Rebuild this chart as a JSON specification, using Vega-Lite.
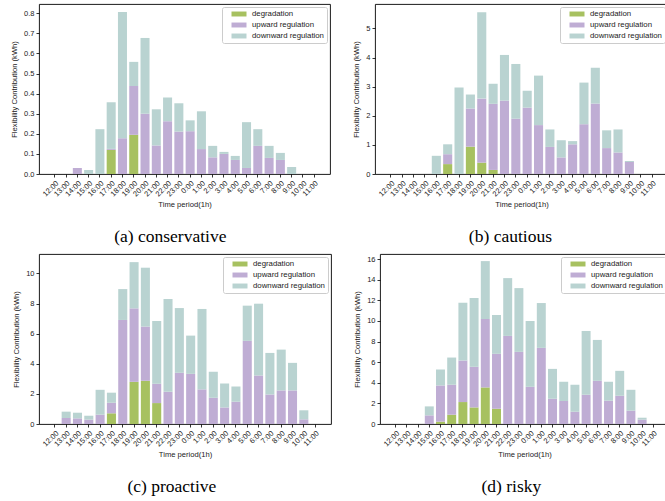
{
  "$schema": "https://vega.github.io/schema/vega-lite/v6.json",
  "padding": {"left": 10, "top": 3, "right": 0, "bottom": 0},
  "datasets": {
    "a": [
      {"hour": "14:00", "degradation": 0, "upward_top": 0.03, "downward_top": 0.03},
      {"hour": "15:00", "degradation": 0, "upward_top": 0, "downward_top": 0.02},
      {"hour": "16:00", "degradation": 0, "upward_top": 0, "downward_top": 0.223},
      {"hour": "17:00", "degradation": 0.12, "upward_top": 0.125, "downward_top": 0.357},
      {"hour": "18:00", "degradation": 0, "upward_top": 0.178, "downward_top": 0.806},
      {"hour": "19:00", "degradation": 0.195, "upward_top": 0.438, "downward_top": 0.558},
      {"hour": "20:00", "degradation": 0, "upward_top": 0.3, "downward_top": 0.677},
      {"hour": "21:00", "degradation": 0, "upward_top": 0.142, "downward_top": 0.322},
      {"hour": "22:00", "degradation": 0, "upward_top": 0.262, "downward_top": 0.381},
      {"hour": "23:00", "degradation": 0, "upward_top": 0.211, "downward_top": 0.352},
      {"hour": "0:00", "degradation": 0, "upward_top": 0.213, "downward_top": 0.267},
      {"hour": "1:00", "degradation": 0, "upward_top": 0.124, "downward_top": 0.312},
      {"hour": "2:00", "degradation": 0, "upward_top": 0.083, "downward_top": 0.14},
      {"hour": "3:00", "degradation": 0, "upward_top": 0.1, "downward_top": 0.11},
      {"hour": "4:00", "degradation": 0, "upward_top": 0.07, "downward_top": 0.09},
      {"hour": "5:00", "degradation": 0, "upward_top": 0.03, "downward_top": 0.258},
      {"hour": "6:00", "degradation": 0, "upward_top": 0.14, "downward_top": 0.223},
      {"hour": "7:00", "degradation": 0, "upward_top": 0.08, "downward_top": 0.14},
      {"hour": "8:00", "degradation": 0, "upward_top": 0.07, "downward_top": 0.105},
      {"hour": "9:00", "degradation": 0, "upward_top": 0, "downward_top": 0.035}
    ],
    "b": [
      {"hour": "16:00", "degradation": 0, "upward_top": 0, "downward_top": 0.625},
      {"hour": "17:00", "degradation": 0.34, "upward_top": 0.68, "downward_top": 1.02},
      {"hour": "18:00", "degradation": 0, "upward_top": 0, "downward_top": 2.97},
      {"hour": "19:00", "degradation": 0.94, "upward_top": 2.25, "downward_top": 2.73},
      {"hour": "20:00", "degradation": 0.39, "upward_top": 2.59, "downward_top": 5.56},
      {"hour": "21:00", "degradation": 0.14, "upward_top": 2.41, "downward_top": 3.1},
      {"hour": "22:00", "degradation": 0, "upward_top": 2.52, "downward_top": 4.09},
      {"hour": "23:00", "degradation": 0, "upward_top": 1.9, "downward_top": 3.78},
      {"hour": "0:00", "degradation": 0, "upward_top": 2.28, "downward_top": 2.86},
      {"hour": "1:00", "degradation": 0, "upward_top": 1.68, "downward_top": 3.38},
      {"hour": "2:00", "degradation": 0, "upward_top": 0.93, "downward_top": 1.53},
      {"hour": "3:00", "degradation": 0, "upward_top": 0.57, "downward_top": 1.16},
      {"hour": "4:00", "degradation": 0, "upward_top": 1.02, "downward_top": 1.13},
      {"hour": "5:00", "degradation": 0, "upward_top": 1.71, "downward_top": 3.14},
      {"hour": "6:00", "degradation": 0, "upward_top": 2.42, "downward_top": 3.65},
      {"hour": "7:00", "degradation": 0, "upward_top": 0.89, "downward_top": 1.5},
      {"hour": "8:00", "degradation": 0, "upward_top": 0.74, "downward_top": 1.53},
      {"hour": "9:00", "degradation": 0, "upward_top": 0.41, "downward_top": 0.45}
    ],
    "c": [
      {"hour": "13:00", "degradation": 0, "upward_top": 0.4, "downward_top": 0.82},
      {"hour": "14:00", "degradation": 0, "upward_top": 0.375, "downward_top": 0.75},
      {"hour": "15:00", "degradation": 0, "upward_top": 0.29, "downward_top": 0.55},
      {"hour": "16:00", "degradation": 0, "upward_top": 0.62, "downward_top": 2.27},
      {"hour": "17:00", "degradation": 0.71, "upward_top": 1.41, "downward_top": 2.08},
      {"hour": "18:00", "degradation": 0, "upward_top": 6.91, "downward_top": 8.96},
      {"hour": "19:00", "degradation": 2.8, "upward_top": 7.68, "downward_top": 10.75},
      {"hour": "20:00", "degradation": 2.87, "upward_top": 6.47, "downward_top": 10.38},
      {"hour": "21:00", "degradation": 1.39, "upward_top": 2.67, "downward_top": 6.84},
      {"hour": "22:00", "degradation": 0, "upward_top": 2.14, "downward_top": 8.3},
      {"hour": "23:00", "degradation": 0, "upward_top": 3.4, "downward_top": 7.7},
      {"hour": "0:00", "degradation": 0, "upward_top": 3.33, "downward_top": 5.87},
      {"hour": "1:00", "degradation": 0, "upward_top": 2.3, "downward_top": 7.64},
      {"hour": "2:00", "degradation": 0, "upward_top": 1.74, "downward_top": 3.47},
      {"hour": "3:00", "degradation": 0, "upward_top": 1.1, "downward_top": 2.69},
      {"hour": "4:00", "degradation": 0, "upward_top": 1.48, "downward_top": 2.49},
      {"hour": "5:00", "degradation": 0, "upward_top": 5.52, "downward_top": 7.86},
      {"hour": "6:00", "degradation": 0, "upward_top": 3.22, "downward_top": 7.99},
      {"hour": "7:00", "degradation": 0, "upward_top": 1.96, "downward_top": 4.72},
      {"hour": "8:00", "degradation": 0, "upward_top": 2.23, "downward_top": 4.94},
      {"hour": "9:00", "degradation": 0, "upward_top": 2.23, "downward_top": 4.06},
      {"hour": "10:00", "degradation": 0, "upward_top": 0.31, "downward_top": 0.91}
    ],
    "d": [
      {"hour": "15:00", "degradation": 0, "upward_top": 0.84, "downward_top": 1.71},
      {"hour": "16:00", "degradation": 0.23, "upward_top": 3.74, "downward_top": 5.29},
      {"hour": "17:00", "degradation": 0.9, "upward_top": 3.81, "downward_top": 6.45},
      {"hour": "18:00", "degradation": 2.13, "upward_top": 6.16, "downward_top": 11.77},
      {"hour": "19:00", "degradation": 1.61, "upward_top": 5.55, "downward_top": 12.23},
      {"hour": "20:00", "degradation": 3.55, "upward_top": 10.19, "downward_top": 15.81},
      {"hour": "21:00", "degradation": 1.48, "upward_top": 6.81, "downward_top": 10.58},
      {"hour": "22:00", "degradation": 0, "upward_top": 8.55, "downward_top": 14.16},
      {"hour": "23:00", "degradation": 0, "upward_top": 7.0, "downward_top": 13.19},
      {"hour": "0:00", "degradation": 0, "upward_top": 3.61, "downward_top": 10.0},
      {"hour": "1:00", "degradation": 0, "upward_top": 7.39, "downward_top": 11.74},
      {"hour": "2:00", "degradation": 0, "upward_top": 2.45, "downward_top": 5.35},
      {"hour": "3:00", "degradation": 0, "upward_top": 2.23, "downward_top": 4.1},
      {"hour": "4:00", "degradation": 0, "upward_top": 1.19, "downward_top": 3.81},
      {"hour": "5:00", "degradation": 0, "upward_top": 2.84, "downward_top": 9.03},
      {"hour": "6:00", "degradation": 0, "upward_top": 4.19, "downward_top": 8.16},
      {"hour": "7:00", "degradation": 0, "upward_top": 2.26, "downward_top": 4.1},
      {"hour": "8:00", "degradation": 0, "upward_top": 2.74, "downward_top": 5.16},
      {"hour": "9:00", "degradation": 0, "upward_top": 1.29, "downward_top": 3.32},
      {"hour": "10:00", "degradation": 0, "upward_top": 0.42, "downward_top": 0.61}
    ]
  },
  "resolve": {"scale": {"color": "independent", "y": "independent"}, "legend": {"color": "independent"}},
  "spacing": 6,
  "vconcat": [
    {
      "spacing": 21,
      "resolve": {"scale": {"color": "independent", "y": "independent"}, "legend": {"color": "independent"}},
      "hconcat": [
        {
          "width": 291, "height": 170,
          "data": {"name": "a"},
          "title": {"text": "(a) conservative"},
          "encoding": {
            "x": {"field": "hour", "type": "nominal", "sort": null,
              "scale": {"domain": ["12:00","13:00","14:00","15:00","16:00","17:00","18:00","19:00","20:00","21:00","22:00","23:00","0:00","1:00","2:00","3:00","4:00","5:00","6:00","7:00","8:00","9:00","10:00","11:00"], "paddingInner": 0.2, "paddingOuter": 1.09},
              "axis": {"title": "Time period(1h)"}}
          },
          "layer": [
            {"mark": "bar", "encoding": {
              "y": {"field": "degradation", "type": "quantitative", "scale": {"domain": [0, 0.846], "nice": false},
                "axis": {"title": "Flexibility Contribution (kWh)", "values": [0,0.1,0.2,0.3,0.4,0.5,0.6,0.7,0.8], "format": ".1f", "labelOverlap": false}},
              "color": {"datum": "degradation", "type": "nominal", "scale": {"domain": ["degradation","upward regulation","downward regulation"], "range": ["#a7c160","#bfadd4","#b9d3d1"]}}}},
            {"mark": "bar", "encoding": {"y": {"field": "degradation", "type": "quantitative", "axis": {"title": "Flexibility Contribution (kWh)", "values": [0,0.1,0.2,0.3,0.4,0.5,0.6,0.7,0.8], "format": ".1f", "labelOverlap": false}}, "y2": {"field": "upward_top"}, "color": {"datum": "upward regulation", "type": "nominal"}}},
            {"mark": "bar", "encoding": {"y": {"field": "upward_top", "type": "quantitative", "axis": {"title": "Flexibility Contribution (kWh)", "values": [0,0.1,0.2,0.3,0.4,0.5,0.6,0.7,0.8], "format": ".1f", "labelOverlap": false}}, "y2": {"field": "downward_top"}, "color": {"datum": "downward regulation", "type": "nominal"}}}
          ]
        },
        {
          "width": 293, "height": 170,
          "data": {"name": "b"},
          "title": {"text": "(b) cautious"},
          "encoding": {
            "x": {"field": "hour", "type": "nominal", "sort": null,
              "scale": {"domain": ["12:00","13:00","14:00","15:00","16:00","17:00","18:00","19:00","20:00","21:00","22:00","23:00","0:00","1:00","2:00","3:00","4:00","5:00","6:00","7:00","8:00","9:00","10:00","11:00"], "paddingInner": 0.2, "paddingOuter": 1.09},
              "axis": {"title": "Time period(1h)"}}
          },
          "layer": [
            {"mark": "bar", "encoding": {
              "y": {"field": "degradation", "type": "quantitative", "scale": {"domain": [0, 5.84], "nice": false},
                "axis": {"title": "Flexibility Contribution (kWh)", "values": [0,1,2,3,4,5], "format": "d", "labelOverlap": false}},
              "color": {"datum": "degradation", "type": "nominal", "scale": {"domain": ["degradation","upward regulation","downward regulation"], "range": ["#a7c160","#bfadd4","#b9d3d1"]}}}},
            {"mark": "bar", "encoding": {"y": {"field": "degradation", "type": "quantitative", "axis": {"title": "Flexibility Contribution (kWh)", "values": [0,1,2,3,4,5], "format": "d", "labelOverlap": false}}, "y2": {"field": "upward_top"}, "color": {"datum": "upward regulation", "type": "nominal"}}},
            {"mark": "bar", "encoding": {"y": {"field": "upward_top", "type": "quantitative", "axis": {"title": "Flexibility Contribution (kWh)", "values": [0,1,2,3,4,5], "format": "d", "labelOverlap": false}}, "y2": {"field": "downward_top"}, "color": {"datum": "downward regulation", "type": "nominal"}}}
          ]
        }
      ]
    },
    {
      "spacing": 21,
      "resolve": {"scale": {"color": "independent", "y": "independent"}, "legend": {"color": "independent"}},
      "hconcat": [
        {
          "width": 292, "height": 170,
          "data": {"name": "c"},
          "title": {"text": "(c) proactive"},
          "encoding": {
            "x": {"field": "hour", "type": "nominal", "sort": null,
              "scale": {"domain": ["12:00","13:00","14:00","15:00","16:00","17:00","18:00","19:00","20:00","21:00","22:00","23:00","0:00","1:00","2:00","3:00","4:00","5:00","6:00","7:00","8:00","9:00","10:00","11:00"], "paddingInner": 0.2, "paddingOuter": 1.09},
              "axis": {"title": "Time period(1h)"}}
          },
          "layer": [
            {"mark": "bar", "encoding": {
              "y": {"field": "degradation", "type": "quantitative", "scale": {"domain": [0, 11.29], "nice": false},
                "axis": {"title": "Flexibility Contribution (kWh)", "values": [0,2,4,6,8,10], "format": "d", "labelOverlap": false}},
              "color": {"datum": "degradation", "type": "nominal", "scale": {"domain": ["degradation","upward regulation","downward regulation"], "range": ["#a7c160","#bfadd4","#b9d3d1"]}}}},
            {"mark": "bar", "encoding": {"y": {"field": "degradation", "type": "quantitative", "axis": {"title": "Flexibility Contribution (kWh)", "values": [0,2,4,6,8,10], "format": "d", "labelOverlap": false}}, "y2": {"field": "upward_top"}, "color": {"datum": "upward regulation", "type": "nominal"}}},
            {"mark": "bar", "encoding": {"y": {"field": "upward_top", "type": "quantitative", "axis": {"title": "Flexibility Contribution (kWh)", "values": [0,2,4,6,8,10], "format": "d", "labelOverlap": false}}, "y2": {"field": "downward_top"}, "color": {"datum": "downward regulation", "type": "nominal"}}}
          ]
        },
        {
          "width": 289, "height": 170,
          "data": {"name": "d"},
          "title": {"text": "(d) risky"},
          "encoding": {
            "x": {"field": "hour", "type": "nominal", "sort": null,
              "scale": {"domain": ["12:00","13:00","14:00","15:00","16:00","17:00","18:00","19:00","20:00","21:00","22:00","23:00","0:00","1:00","2:00","3:00","4:00","5:00","6:00","7:00","8:00","9:00","10:00","11:00"], "paddingInner": 0.2, "paddingOuter": 1.09},
              "axis": {"title": "Time period(1h)"}}
          },
          "layer": [
            {"mark": "bar", "encoding": {
              "y": {"field": "degradation", "type": "quantitative", "scale": {"domain": [0, 16.5], "nice": false},
                "axis": {"title": "Flexibility Contribution (kWh)", "values": [0,2,4,6,8,10,12,14,16], "format": "d", "labelOverlap": false}},
              "color": {"datum": "degradation", "type": "nominal", "scale": {"domain": ["degradation","upward regulation","downward regulation"], "range": ["#a7c160","#bfadd4","#b9d3d1"]}}}},
            {"mark": "bar", "encoding": {"y": {"field": "degradation", "type": "quantitative", "axis": {"title": "Flexibility Contribution (kWh)", "values": [0,2,4,6,8,10,12,14,16], "format": "d", "labelOverlap": false}}, "y2": {"field": "upward_top"}, "color": {"datum": "upward regulation", "type": "nominal"}}},
            {"mark": "bar", "encoding": {"y": {"field": "upward_top", "type": "quantitative", "axis": {"title": "Flexibility Contribution (kWh)", "values": [0,2,4,6,8,10,12,14,16], "format": "d", "labelOverlap": false}}, "y2": {"field": "downward_top"}, "color": {"datum": "downward regulation", "type": "nominal"}}}
          ]
        }
      ]
    }
  ],
  "config": {
    "view": {"stroke": "#000", "strokeWidth": 0.9},
    "font": "Liberation Sans",
    "axis": {"grid": false, "domain": false, "tickColor": "#000", "tickSize": 3, "tickWidth": 0.8, "labelOverlap": false,
      "labelFont": "Liberation Sans", "labelFontSize": 7.5, "labelColor": "#222", "labelPadding": 2,
      "titleFont": "Liberation Sans", "titleFontSize": 7.6, "titleFontWeight": "normal", "titleColor": "#222", "titlePadding": 4},
    "axisX": {"labelAngle": -45, "labelOverlap": false, "labelBound": false, "titlePadding": 3},
    "axisY": {"titlePadding": 5, "labelOverlap": false},
    "legend": {"orient": "top-right", "offset": 3, "padding": 3, "rowPadding": 3, "title": null,
      "fillColor": "rgba(255,255,255,0.85)", "strokeColor": "#cccccc", "cornerRadius": 2,
      "symbolType": "M-2,-0.66H2V0.66H-2Z", "symbolSize": 56.25, "symbolStrokeWidth": 0, "symbolOpacity": 1,
      "symbolOffset": 10, "labelOffset": 9, "labelFont": "Liberation Sans", "labelFontSize": 7.8, "labelColor": "#222"},
    "title": {"orient": "bottom", "frame": "bounds", "anchor": "middle", "font": "Liberation Serif", "fontSize": 17.5, "fontWeight": "normal", "color": "#000", "offset": 20}
  }
}
